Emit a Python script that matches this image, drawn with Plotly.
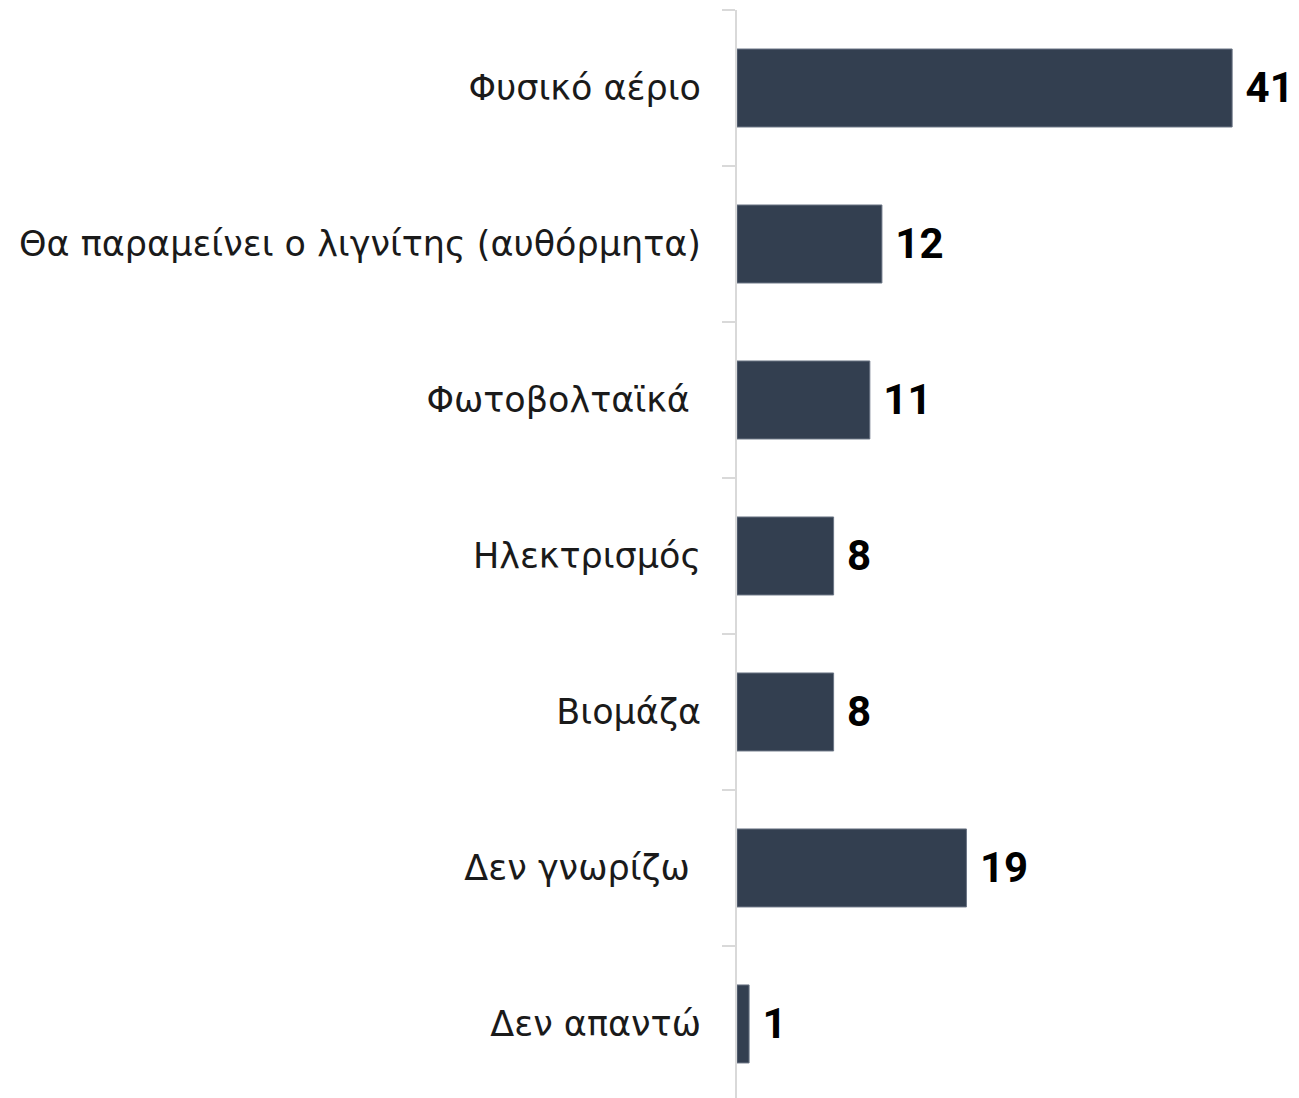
import plotly.graph_objects as go

categories = [
    "Φυσικό αέριο",
    "Θα παραμείνει ο λιγνίτης (αυθόρμητα)",
    "Φωτοβολταϊκά ",
    "Ηλεκτρισμός",
    "Βιομάζα",
    "Δεν γνωρίζω ",
    "Δεν απαντώ",
]
values = [41, 12, 11, 8, 8, 19, 1]

fig = go.Figure()
fig.add_trace(go.Bar(
    y=categories,
    x=values,
    orientation="h",
    width=0.5,
    marker=dict(color="#333F50", line=dict(color="#6B7585", width=1)),
    text=[str(v) for v in values],
    texttemplate=" %{text}",
    textposition="outside",
    textfont=dict(family="Liberation Sans Narrow, Roboto, sans-serif", size=42, color="#000000", weight="bold"),
    cliponaxis=False,
))

fig.update_layout(
    width=1299,
    height=1098,
    paper_bgcolor="white",
    plot_bgcolor="white",
    showlegend=False,
    margin=dict(l=729, r=0, t=2, b=0),
    font=dict(family="DejaVu Sans, sans-serif", size=35, color="#1a1a1a"),
    bargap=0.5,
)
fig.update_xaxes(
    range=[0, 47.2],
    visible=False,
    showgrid=False,
    zeroline=False,
)
fig.update_yaxes(
    type="category",
    categoryorder="array",
    categoryarray=categories,
    range=[6.526, -0.5],
    showline=True,
    linecolor="#D9D9D9",
    linewidth=2,
    ticks="outside",
    tickson="boundaries",
    ticklen=13,
    tickcolor="#D9D9D9",
    tickwidth=2,
    ticklabelstandoff=27,
    showgrid=False,
    zeroline=False,
    tickfont=dict(family="DejaVu Sans, sans-serif", size=35, color="#1a1a1a"),
)

fig.write_html("out.html")
